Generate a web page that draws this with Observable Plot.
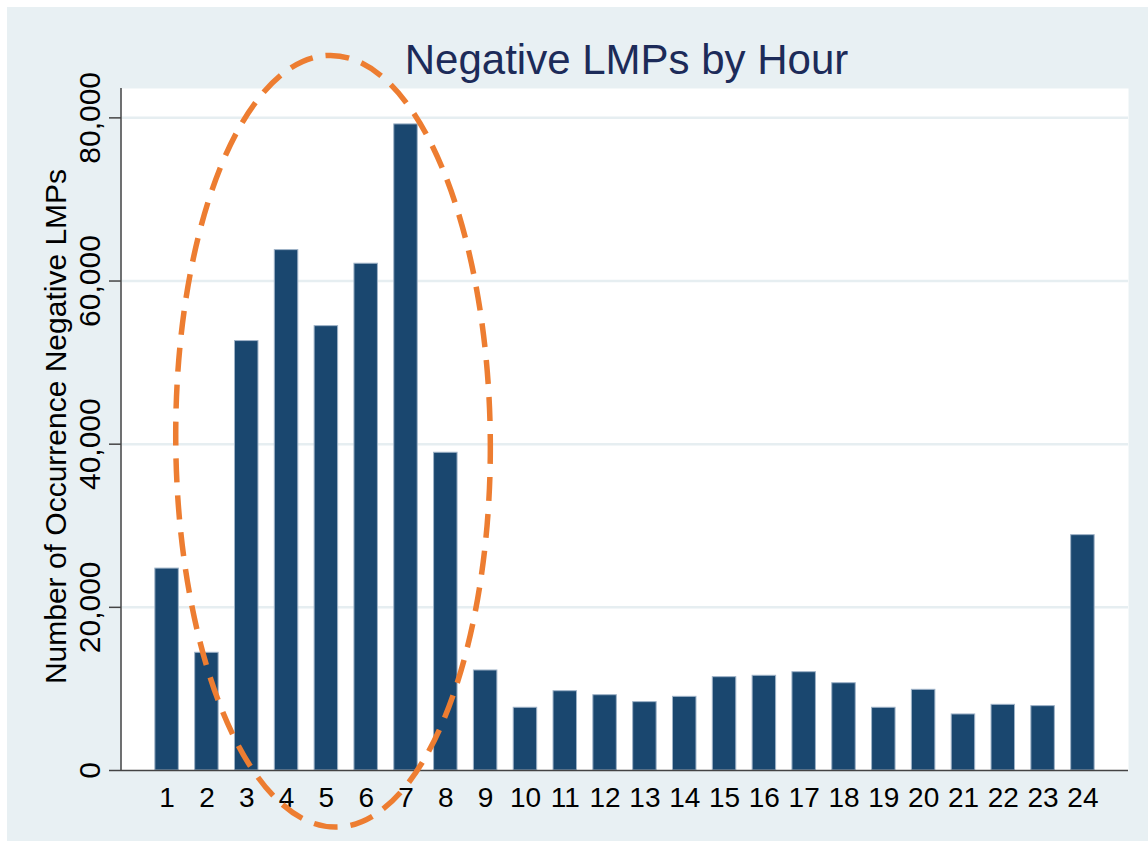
<!DOCTYPE html>
<html>
<head>
<meta charset="utf-8">
<script src="https://cdn.jsdelivr.net/npm/d3@7"></script>
<script src="https://cdn.jsdelivr.net/npm/@observablehq/plot@0.6"></script>
<style>
  html, body { margin: 0; padding: 0; background: #ffffff; overflow: hidden; }
  #wrap { position: relative; width: 1148px; height: 841px; background: #ffffff; }
  #bg { position: absolute; left: 7px; top: 7px; right: 0; bottom: 0; background: #e8f0f3; }
  #chart { position: absolute; left: 0; top: 0; }
</style>
</head>
<body>
<div id="wrap"><div id="bg"></div><div id="chart"></div></div>
<script>
// ---- data ----
const hours = ["1","2","3","4","5","6","7","8","9","10","11","12","13","14","15","16","17","18","19","20","21","22","23","24"];
const counts = [24750, 14430, 52640, 63790, 54470, 62120, 79200, 38950, 12260, 7690, 9720, 9230, 8380, 9030, 11440, 11610, 12050, 10700, 7690, 9890, 6870, 8050, 7890, 28850];
const yTicks = [0, 20000, 40000, 60000, 80000];
const titleText = "Negative LMPs by Hour";
const yLabel = "Number of Occurrence Negative LMPs";
// highlight ellipse (annotation) in data units
const ellipseCenterHour = "5";
const ellipseCenterOffsetBands = 0.18;
const ellipseRadiusBands = 3.95;
const ellipseCenterValue = 40300;
const ellipseRadiusValue = 47300;

const data = hours.map((h, i) => ({hour: h, count: counts[i]}));
const fmt = d3.format(",");
const SVGNS = "http://www.w3.org/2000/svg";

// y-axis domain line along the left edge of the frame
const yAxisLine = (index, scales, values, dims) => {
  const l = document.createElementNS(SVGNS, "line");
  const x0 = dims.marginLeft;
  l.setAttribute("x1", x0);
  l.setAttribute("x2", x0);
  l.setAttribute("y1", dims.marginTop);
  l.setAttribute("y2", dims.height - dims.marginBottom);
  l.setAttribute("stroke", "#444");
  l.setAttribute("stroke-width", 1.5);
  return l;
};

const ellipseMark = (index, scales, values, dims) => {
  const x = scales.x, y = scales.y;
  const step = x.step ? x.step() : (x(hours[1]) - x(hours[0]));
  const bw = x.bandwidth ? x.bandwidth() : 0;
  const cx = x(ellipseCenterHour) + bw / 2 + ellipseCenterOffsetBands * step;
  const cy = y(ellipseCenterValue);
  const rx = ellipseRadiusBands * step;
  const ry = Math.abs(y(0) - y(ellipseRadiusValue));
  const el = document.createElementNS(SVGNS, "ellipse");
  el.setAttribute("cx", cx);
  el.setAttribute("cy", cy);
  el.setAttribute("rx", rx);
  el.setAttribute("ry", ry);
  el.setAttribute("fill", "none");
  el.setAttribute("stroke", "#ed7d31");
  el.setAttribute("stroke-width", 5.5);
  el.setAttribute("stroke-dasharray", "24 13");
  el.setAttribute("transform", `rotate(-0.45 ${cx} ${cy})`);
  return el;
};

const chart = Plot.plot({
  width: 1148,
  height: 841,
  marginLeft: 121,
  marginRight: 20,
  marginTop: 88,
  marginBottom: 71,
  style: {background: "transparent", overflow: "visible", fontFamily: "'Liberation Sans', Arial, sans-serif", fontSize: "28px", color: "#000"},
  x: {type: "band", domain: hours, paddingInner: 0.41, paddingOuter: 0.85, round: false},
  y: {domain: [0, 83600]},
  marks: [
    Plot.frame({fill: "#ffffff", stroke: "none"}),
    Plot.ruleY(yTicks.slice(1), {stroke: "#e6eef1", strokeWidth: 2.5}),
    Plot.barY(data, {x: "hour", y: "count", fill: "#1a476f", stroke: "#9fb3c8", strokeWidth: 1}),
    Plot.ruleY([0], {stroke: "#444", strokeWidth: 1.5}),
    yAxisLine,
    Plot.axisY({ticks: yTicks, tickSize: 12, tickFormat: () => "", stroke: "#444", strokeWidth: 1.5, label: null}),
    Plot.axisX({tickSize: 0, tickPadding: 17, fontSize: 28, label: null, fill: "#000"}),
    Plot.text(yTicks, {y: d => d, text: d => fmt(d), frameAnchor: "left", rotate: -90, textAnchor: "middle", lineAnchor: "bottom", dx: -22, fontSize: 30, fill: "#000"}),
    Plot.text([yLabel], {text: d => d, frameAnchor: "left", rotate: -90, textAnchor: "middle", lineAnchor: "bottom", dx: -56, dy: -3, fontSize: 30, fill: "#000"}),
    Plot.text([titleText], {text: d => d, frameAnchor: "top", textAnchor: "middle", lineAnchor: "bottom", dx: 1.5, dy: -14.7, fontSize: 42, fill: "#1c2b59"}),
    ellipseMark
  ]
});
document.getElementById("chart").appendChild(chart);
</script>
</body>
</html>
